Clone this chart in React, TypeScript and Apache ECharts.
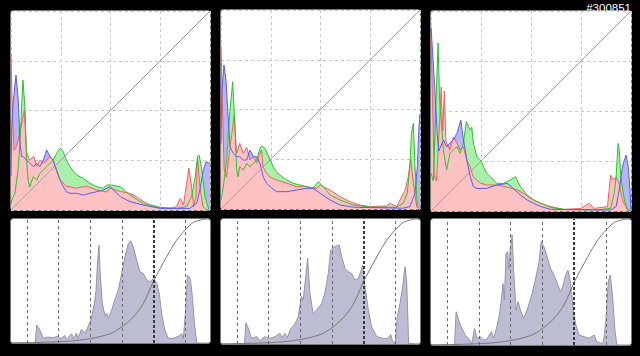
import * as echarts from 'echarts';
import { useEffect, useRef } from 'react';

// ---- Data: histogram levels 0..255, counts as % of panel height ----
const topRed1 = [[0,78],[2,45],[4,30],[7,32],[11,38],[14,44],[17,50],[20,29],[24,25],[29,27],[33,22],[37,25],[41,23.5],[46,25],[50,27],[54,25],[58,20],[63,15],[71,12],[84,11],[97,12],[110,10],[123,9],[127,11],[140,9.3],[152,8.4],[161,6.7],[170,4.2],[178,2.5],[191,1.3],[204,0.8],[212,1.7],[217,5.8],[221,2.5],[225,13],[228,21],[231,13],[234,1.7],[237,6.7],[239,26],[242,11.7],[246,1.7],[251,0],[255,0]];
const topGreen1 = [[0,3],[1,5],[5,8.4],[9,20],[11.5,33.5],[13.7,53.6],[15.4,65.3],[18,50.3],[20,25],[22,15],[24,11.7],[28.6,16.8],[33,15],[37,18.4],[41.4,20],[45.7,21.8],[50,23.5],[54,25],[58.5,28.5],[63,31],[67,29.3],[71,25],[75.6,21.8],[80,19.3],[84,17.6],[92.7,15.9],[101,13.4],[110,11.7],[118,10.9],[123,12.6],[127,12.6],[140,11.7],[152.5,7.5],[169.5,3.3],[191,1.3],[212,0.8],[225,1.7],[231.5,6.7],[236,16.8],[239,26.8],[241,27.6],[244,21.8],[248.6,6.7],[253,0.8],[255,0]];
const topBlue1 = [[0,17],[1,42],[3,55],[6.4,67.8],[9.4,55],[11.5,33.5],[13.7,26.8],[15.8,26.8],[20,25],[24,23.5],[28.6,21.8],[33,23.5],[37,21.8],[41.4,25],[45.7,30.2],[50,26.8],[54,25],[58.5,20],[63,15],[67,11.7],[71,9.2],[75.6,8.4],[84,8.4],[92.7,7.5],[101,8.4],[110,9.2],[118,10],[127,11.7],[140,6.7],[152.5,4.2],[169.5,2.5],[191,0.8],[229,0.8],[238,3.4],[242,10],[246.5,20],[250,24.3],[253,23.5],[255,24]];

const topRed2 = [[0,81],[2,50],[4,20],[7,16],[11.5,31],[14,38],[16.7,47],[20,28],[24,33],[28.6,28],[33,31],[37,24.6],[41.4,26.3],[45.7,23],[50,28],[52,29.6],[54,21],[58.5,18],[63,16],[71,14.6],[84,13],[97,11.2],[110,11.2],[122.6,10.4],[127,12],[140,9.5],[152.5,6.2],[165,3.7],[178,2],[191,1.2],[212,1.5],[216.6,2.9],[225,1.2],[231.5,6.2],[236,9.5],[240,16.2],[243,25.3],[246.5,13],[250.7,1.2],[255,0]];
const topGreen2 = [[0,4.5],[3,11.2],[7.3,24.6],[11.5,49.7],[15,63.9],[18,41.3],[20,19.6],[22,16.2],[24,21.2],[28.6,19.6],[33,22.9],[37,21.2],[41.4,22.9],[45.7,24.6],[50,30.5],[52,31.7],[56.4,30.5],[63,24.6],[67,21.2],[71,18.7],[75.6,17],[84,14.6],[92.7,12.9],[101,12.1],[110,11.2],[118,10.4],[124.7,13.7],[127,12.9],[140,7],[152.5,4.5],[169.5,2],[191,0.9],[225,0.9],[233.6,2.9],[238.7,7.9],[242,21.2],[244,38],[246.5,43],[248.6,21.2],[251.6,1.2],[255,0]];
const topBlue2 = [[0,33],[1,58],[3.8,72.4],[6.4,64.8],[9.4,44.7],[11.5,31.2],[15.8,27.9],[20,26.3],[24,26.3],[28.6,24.6],[33,24.6],[37,29.6],[41.4,26.3],[45.7,26.3],[50,22.9],[54,16.2],[58.5,12.9],[63,11.2],[71,8.7],[84,8.7],[97,9.5],[110,10.4],[118,10.4],[127,7.9],[140,4.5],[152.5,2],[169.5,0.9],[233.6,0.4],[242,1.2],[248.6,7.9],[251.6,21.2],[253.5,40],[255,48]];

const topRed3 = [[0,87],[2,55],[4,18],[7,15],[11,45],[13,62],[15,40],[17,60],[19,35],[20,34],[24,30.5],[28.6,37],[33,34],[37,30.5],[41.4,32],[45.7,25.5],[50,22],[54,17],[58.5,15.5],[63,14],[71,13],[84,13],[97,12],[110,10.5],[118,8.8],[127,6.3],[140,3.8],[152.5,2.2],[169.5,0.8],[191,1.3],[201.6,3.8],[208,1.3],[225,2.2],[229,18],[232.6,15.5],[236,17],[240,13.8],[244,5.5],[250.7,0.5],[255,0]];
const topGreen3 = [[0,19],[3,15],[6,50],[9,84],[11,55],[14,40],[16,30],[20,20.5],[24,28.8],[28.6,30.5],[33,32.2],[37,28.8],[41.4,34],[45,44.7],[48,42],[50,40.5],[52,42],[54,34],[58.5,27.2],[63,25.5],[67,22.2],[71,18.8],[75.6,17.2],[84,13.8],[92.7,13.8],[101,15.5],[107.6,17.2],[114,12.2],[122.6,8],[131,5.5],[140,3.8],[152.5,1.8],[169.5,0.8],[212,0.5],[229,1.3],[233.6,8.8],[236,17],[238.5,33.8],[240,30.5],[242,17],[246.5,5.5],[250.7,0.5],[255,0]];
const topBlue3 = [[0,92],[2,80],[5,60],[8,38],[10,30],[15.8,35.5],[20,32],[24,34],[28.6,35.5],[33,38.8],[38,45.5],[41.4,35.5],[45.7,25.5],[50,17.2],[54,12.2],[58.5,11.3],[71,11.3],[84,13],[97,13.8],[105,11.3],[114,8],[122.6,5.5],[131,3.8],[140,2.2],[152.5,0.8],[229,0.5],[236,2.2],[240,10.5],[244,22],[248.6,28],[251.6,22],[254,8.8],[255,0]];

const lum1 = [[0,0],[30,0],[31,0.5],[33,14.5],[37,10.5],[41.4,3.5],[45.7,4.8],[54,4.3],[60,5.4],[64,3.5],[69,6.2],[71,2.7],[77.6,7.5],[80,3.5],[84,8],[86,3.5],[90,10.8],[95,8],[99,13.4],[103,20],[106.8,32],[109,42.5],[111,66.9],[112.8,79],[114.5,53.8],[117,32],[120.6,21.5],[122.6,24.2],[124.7,20],[129,26.6],[133,34.7],[137.5,42.7],[141.8,56],[146,69.5],[150.3,80],[153.3,82.5],[156.7,77.5],[161,66.9],[165,57.5],[169.5,56],[174,50.8],[178,49.5],[182.4,52],[186.7,48.2],[190,40],[193,24],[197,10.5],[201.6,3.8],[208,3.8],[214.4,5.4],[218.7,7.5],[220.8,3.5],[223.8,26.6],[226,54.8],[228,53.5],[230,51],[232.8,34.7],[235,16],[238,0],[255,0]];
const lum2 = [[0,0],[30,0],[32,17],[35,12.5],[39,4.5],[45.7,5.9],[50,2.7],[56,5.9],[62.6,4.5],[69,5.9],[75.5,8.5],[78,5],[82,8.5],[85,5],[88.4,11.2],[95,16.5],[99,21.9],[103,38],[105.4,35.2],[108.5,53.8],[111,68.5],[114,40.5],[118,24.5],[122.6,27.2],[129,32.5],[133,40.5],[137.5,56.5],[140.5,75.2],[144,77.3],[148,78.4],[151.6,79.2],[154.6,69.9],[159,60.5],[163,57.9],[167.4,56.5],[171.7,51.2],[176,52.5],[179,57.9],[181.5,63.2],[184.5,45.9],[188.8,27.2],[193,13.9],[199.5,5.9],[208,4.5],[214.4,4.5],[217.4,7.7],[220,1.9],[223,0.5],[226,21.9],[229.4,32.5],[232.8,45.9],[235.8,61.9],[238,48.5],[240.5,0.5],[255,0]];
const lum3 = [[0,0],[30,0],[32,26.4],[37,16.4],[43.6,7.9],[47.8,5.3],[52,1.3],[55.5,13.2],[58.5,5.3],[62.6,6.6],[67,4],[71,4.5],[77,10.6],[80,5.3],[84,14.6],[87.5,25.1],[89.7,35.7],[91.8,48.9],[93.5,35.7],[95.7,72.8],[97.8,74.1],[99,60],[101,75.4],[103.4,87.3],[105.4,59.5],[108.5,27.8],[111,34.4],[114,27.8],[118,21.2],[122.6,27.8],[129,41],[133,51.6],[137.5,64.8],[140.5,82],[144,78],[148,70.1],[152.5,60.8],[156.7,55.6],[161,48.9],[165,42.3],[168,46.3],[171.7,55.6],[174.7,59.5],[178,48.9],[181.5,27.8],[184.5,16.4],[188.8,7.9],[195,6.6],[201.6,5.3],[208,7.9],[211.4,2.6],[216.5,1.3],[220,2.6],[223,19.8],[226,50.3],[228.5,55.6],[231.5,38.4],[234.5,11.9],[237,0],[255,0]];

const toneCurve = [[0,0],[71,1.3],[101,3.5],[127,7.5],[141.8,12.9],[156.7,21],[169.5,31.7],[182.4,49.5],[199.5,69.6],[212.3,83],[223,91],[233.6,97.3],[242,99],[248.6,100],[255,100]];
const identityLine = [[0,0],[255,100]];
const guideLevels = [20.5, 61, 101.5, 142, 182.5, 223];
const emphasizedGuide = 182.5;
const imageLabel = '#300851';

const topSets = [
  { r: topRed1, g: topGreen1, b: topBlue1 },
  { r: topRed2, g: topGreen2, b: topBlue2 },
  { r: topRed3, g: topGreen3, b: topBlue3 },
];
const lumSets = [lum1, lum2, lum3];

// ---- Layout ----
const topPanels = [
  { left: 11, top: 11, width: 199, height: 199 },
  { left: 221, top: 10, width: 199, height: 199 },
  { left: 431, top: 11, width: 200, height: 200 },
];
const bottomPanels = [
  { left: 11, top: 219, width: 199, height: 124 },
  { left: 221, top: 219, width: 199, height: 125 },
  { left: 431, top: 219, width: 200, height: 126 },
];

export default function App() {
  const ref = useRef<HTMLDivElement>(null);
  useEffect(() => {
    document.body.style.margin = '0';
    const chart = echarts.init(ref.current!, undefined, { renderer: 'svg' });
    const grids: any[] = [];
    const xAxes: any[] = [];
    const yAxes: any[] = [];
    const series: any[] = [];
    const graphics: any[] = [];

    const all = [...topPanels, ...bottomPanels];
    all.forEach((p, i) => {
      grids.push({ ...p, containLabel: false });
      graphics.push({
        type: 'rect', z: -1,
        shape: { x: p.left - 0.5, y: p.top - 0.5, width: p.width + 1, height: p.height + 1, r: 3 },
        style: { fill: '#ffffff', stroke: '#7a7a7a', lineWidth: 1 },
      });
      const isTop = i < 3;
      xAxes.push({
        type: 'value', gridIndex: i, min: 0, max: 255, interval: 63.75,
        axisLine: { show: false }, axisTick: { show: false }, axisLabel: { show: false },
        splitLine: { show: isTop, lineStyle: { color: '#c8c8c8', type: [3, 3], width: 1 } },
      });
      yAxes.push({
        type: 'value', gridIndex: i, min: 0, max: 100, interval: 25,
        axisLine: { show: false }, axisTick: { show: false }, axisLabel: { show: false },
        splitLine: { show: isTop, lineStyle: { color: '#c8c8c8', type: [3, 3], width: 1 } },
      });
    });

    const base = { type: 'line', showSymbol: false, symbol: 'none', silent: true, animation: false };
    topSets.forEach((s, i) => {
      const fills = [
        { d: s.b, c: '#b6b6f2' },
        { d: s.g, c: '#aaf0aa' },
        { d: s.r, c: '#ffc2c2' },
      ];
      fills.forEach((f) => series.push({
        ...base, xAxisIndex: i, yAxisIndex: i, data: f.d,
        lineStyle: { width: 0, opacity: 0 }, areaStyle: { color: f.c, opacity: 1 }, z: 2,
      }));
      const lines = [
        { d: s.r, c: '#f06060' },
        { d: s.g, c: '#30c030' },
        { d: s.b, c: '#5a5af0' },
      ];
      lines.forEach((l) => series.push({
        ...base, xAxisIndex: i, yAxisIndex: i, data: l.d,
        lineStyle: { width: 1, color: l.c }, z: 3,
      }));
      series.push({
        ...base, xAxisIndex: i, yAxisIndex: i, data: identityLine,
        lineStyle: { width: 1, color: '#a0a0a0' }, z: 4,
      });
    });

    lumSets.forEach((d, k) => {
      const i = k + 3;
      series.push({
        ...base, xAxisIndex: i, yAxisIndex: i, data: d,
        lineStyle: { width: 1, color: '#9494ae' },
        areaStyle: { color: '#bcbcd2', opacity: 1 }, z: 2,
        markLine: {
          silent: true, symbol: 'none', label: { show: false }, animation: false,
          data: guideLevels.map((v) => ({
            xAxis: v,
            lineStyle: v === emphasizedGuide
              ? { color: '#3a3a3a', type: [3, 2], width: 2 }
              : { color: '#6a6a6a', type: [3, 3], width: 1 },
          })),
        },
      });
      series.push({
        ...base, xAxisIndex: i, yAxisIndex: i, data: toneCurve, smooth: 0.3,
        lineStyle: { width: 1, color: '#787878' }, z: 4,
      });
    });

    graphics.push({
      type: 'text', z: 10, x: 631, y: 8,
      style: {
        text: imageLabel, fill: '#ffffff', align: 'right', verticalAlign: 'middle',
        font: '11.5px "Liberation Sans", Arial, sans-serif',
      },
    });

    chart.setOption({
      animation: false,
      backgroundColor: '#000000',
      grid: grids,
      xAxis: xAxes,
      yAxis: yAxes,
      series,
      graphic: graphics,
    });
    return () => chart.dispose();
  }, []);
  return <div ref={ref} style={{ position: 'fixed', left: 0, top: 0, width: 640, height: 356 }} />;
}
